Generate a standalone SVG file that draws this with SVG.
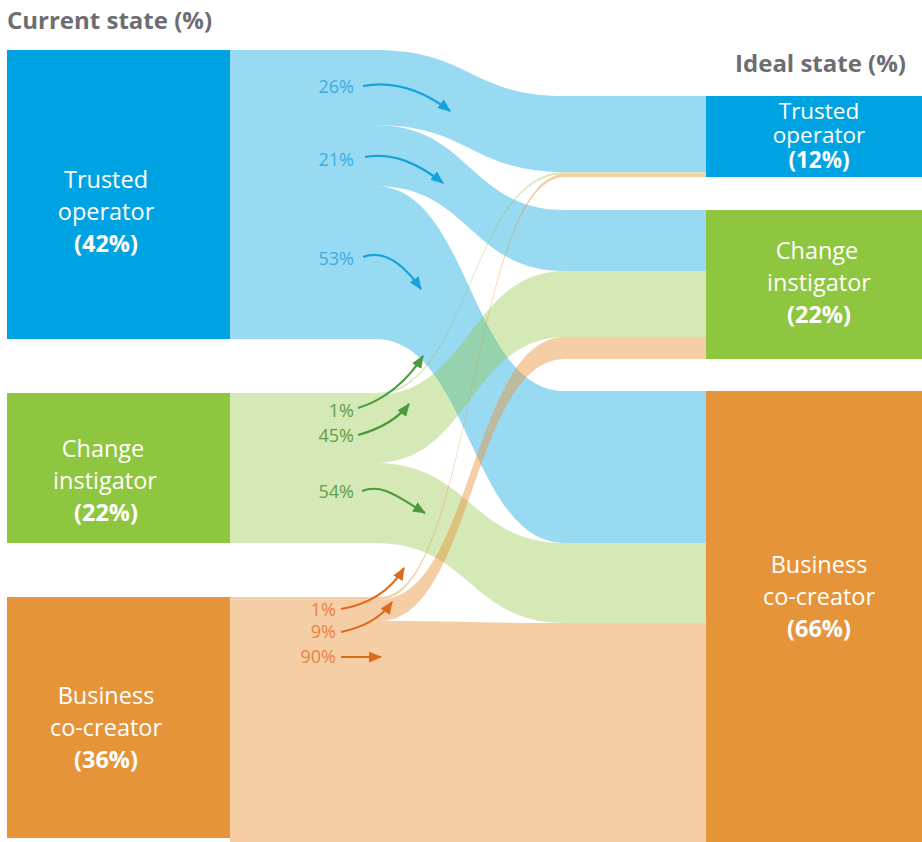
<svg xmlns="http://www.w3.org/2000/svg" width="922" height="842" viewBox="0 0 922 842">
<defs>
<style>
.title{font-family:"Open Sans","Noto Sans",sans-serif;font-weight:bold;font-size:24px;fill:#6d6e71}
.nl{font-family:"Open Sans","Noto Sans",sans-serif;font-size:23.5px;fill:#ffffff;text-anchor:middle}
.ns{font-size:22.5px}
.nb{font-weight:bold}
.pl{font-family:"Open Sans","Noto Sans",sans-serif;font-size:18px;text-anchor:end}
.fb{fill:#00a3e0;fill-opacity:0.4}
.fg{fill:#8dc63f;fill-opacity:0.38}
.fo{fill:#e8923a;fill-opacity:0.45}
.ab{fill:none;stroke:#14a4dd;stroke-width:2.2;marker-end:url(#mb)}
.ag{fill:none;stroke:#4b9a3b;stroke-width:2.2;marker-end:url(#mg)}
.ao{fill:none;stroke:#e06a1c;stroke-width:2.2;marker-end:url(#mo)}
</style>
<marker id="mb" viewBox="0 0 12 10" refX="11" refY="5" markerWidth="13" markerHeight="11" markerUnits="userSpaceOnUse" orient="auto"><path d="M0,0 L12,5 L0,10 z" fill="#14a4dd"/></marker>
<marker id="mg" viewBox="0 0 12 10" refX="11" refY="5" markerWidth="13" markerHeight="11" markerUnits="userSpaceOnUse" orient="auto"><path d="M0,0 L12,5 L0,10 z" fill="#4b9a3b"/></marker>
<marker id="mo" viewBox="0 0 12 10" refX="11" refY="5" markerWidth="13" markerHeight="11" markerUnits="userSpaceOnUse" orient="auto"><path d="M0,0 L12,5 L0,10 z" fill="#e06a1c"/></marker>
</defs>
<rect width="922" height="842" fill="#ffffff"/>
<text class="title" x="7" y="29">Current state (%)</text>
<text class="title" x="906" y="72" text-anchor="end">Ideal state (%)</text>

<g id="connectors">
<!-- blue flows -->
<path class="fb" d="M230,50 L375,50 C470,50 470,96 565,96 L706,96 L706,172 L565,172 C470,172 470,125 375,125 L230,125 Z"/>
<path class="fb" d="M230,125 L375,125 C470,125 470,210 565,210 L706,210 L706,271 L565,271 C470,271 470,186 375,186 L230,186 Z"/>
<path class="fb" d="M230,186 L375,186 C470,186 470,391 565,391 L706,391 L706,543 L565,543 C470,543 470,339 375,339 L230,339 Z"/>
<!-- green flows -->
<path class="fg" d="M230,393 L375,393 C470,393 470,172 565,172 L706,172 L706,174 L565,174 C470,174 470,395 375,395 L230,395 Z"/>
<path class="fg" d="M230,395 L375,395 C470,395 470,271 565,271 L706,271 L706,337 L565,337 C470,337 470,463 375,463 L230,463 Z"/>
<path class="fg" d="M230,463 L375,463 C470,463 470,543 565,543 L706,543 L706,623 L565,623 C470,623 470,543 375,543 L230,543 Z"/>
<!-- orange flows -->
<path class="fo" d="M230,597 L380,597 C472,597 472,174 565,174 L706,174 L706,177 L565,177 C472,177 472,599.5 380,599.5 L230,599.5 Z"/>
<path class="fo" d="M230,599.5 L380,599.5 C472,599.5 472,337 565,337 L706,337 L706,359 L565,359 C472,359 472,621 380,621 L230,621 Z"/>
<path class="fo" d="M230,621 L380,621 C472,621 472,623 565,623 L706,623 L706,842 L230,842 L230,838 Z"/>
<!-- annotation arrows -->
<path class="ab" d="M363,86 C395,80 425,92 450,111"/>
<path class="ab" d="M365,157 C395,152 420,165 443,183"/>
<path class="ab" d="M363,257 C385,249 405,266 421,289"/>
<path class="ag" d="M358,408 C385,400 408,380 423,356"/>
<path class="ag" d="M358,435 C380,429 397,420 409,404"/>
<path class="ag" d="M362,491 C382,483 398,497 425,513"/>
<path class="ao" d="M341,609 C370,604 391,590 404,568"/>
<path class="ao" d="M341,632 C365,627 381,618 392,602"/>
<path class="ao" d="M341,657 L381,657"/>
</g>

<g id="labels">
<text class="pl" x="354" y="93" fill="#38aee2">26%</text>
<text class="pl" x="354" y="166" fill="#38aee2">21%</text>
<text class="pl" x="354" y="265" fill="#38aee2">53%</text>
<text class="pl" x="354" y="417" fill="#5e9f49">1%</text>
<text class="pl" x="354" y="442" fill="#5e9f49">45%</text>
<text class="pl" x="354" y="498" fill="#5e9f49">54%</text>
<text class="pl" x="336" y="616" fill="#e8843f">1%</text>
<text class="pl" x="336" y="638" fill="#e8843f">9%</text>
<text class="pl" x="336" y="663" fill="#e8843f">90%</text>
</g>

<g id="cur-trusted">
<rect x="7" y="50" width="223" height="289" fill="#00a3e2"/>
<text class="nl" x="106" y="188">Trusted</text>
<text class="nl" x="106" y="220">operator</text>
<text class="nl nb" x="106" y="252">(42%)</text>
</g>
<g id="cur-change">
<rect x="7" y="393" width="223" height="150" fill="#8fc640"/>
<text class="nl" x="103" y="457">Change</text>
<text class="nl" x="105" y="489">instigator</text>
<text class="nl nb" x="106" y="521">(22%)</text>
</g>
<g id="cur-business">
<rect x="7" y="597" width="223" height="241" fill="#e6943a"/>
<text class="nl" x="106" y="704">Business</text>
<text class="nl" x="106" y="736">co-creator</text>
<text class="nl nb" x="106" y="768">(36%)</text>
</g>
<g id="ideal-trusted">
<rect x="706" y="96" width="216" height="81" fill="#00a3e2"/>
<text class="nl ns" x="819" y="119">Trusted</text>
<text class="nl ns" x="819" y="143">operator</text>
<text class="nl ns nb" x="819" y="168">(12%)</text>
</g>
<g id="ideal-change">
<rect x="706" y="210" width="216" height="149" fill="#8fc640"/>
<text class="nl" x="817" y="259">Change</text>
<text class="nl" x="819" y="291">instigator</text>
<text class="nl nb" x="819" y="323">(22%)</text>
</g>
<g id="ideal-business">
<rect x="706" y="391" width="216" height="451" fill="#e6943a"/>
<text class="nl" x="819" y="573">Business</text>
<text class="nl" x="819" y="605">co-creator</text>
<text class="nl nb" x="819" y="637">(66%)</text>
</g>
</svg>
